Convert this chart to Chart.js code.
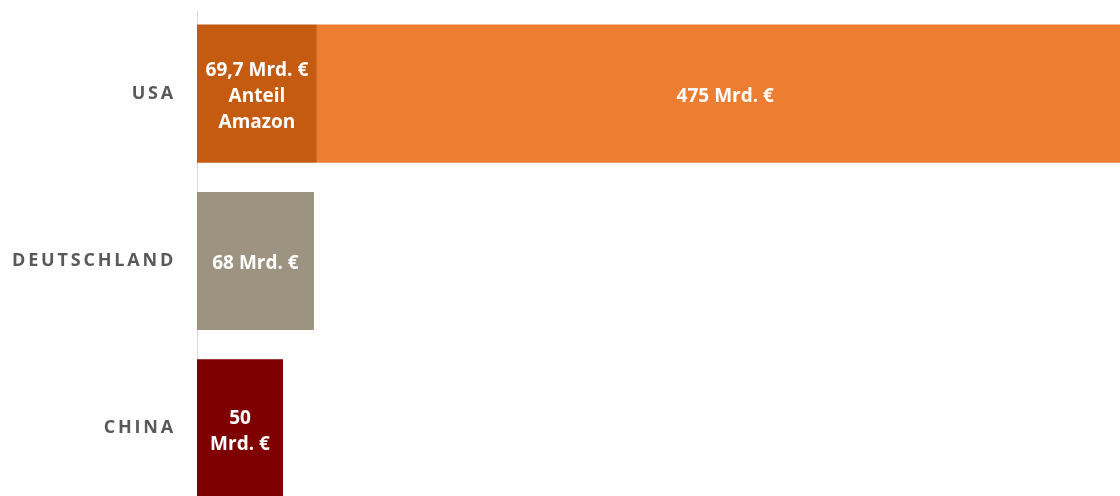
<!DOCTYPE html>
<html lang="de">
<head>
<meta charset="utf-8">
<script src="https://cdn.jsdelivr.net/npm/chart.js@4/dist/chart.umd.min.js"></script>
<style>
  html, body { margin: 0; padding: 0; background: #fff; }
  #wrap { width: 1120px; height: 496px; overflow: hidden; position: relative; }
  canvas { display: block; }
</style>
</head>
<body>
<div id="wrap"><canvas id="chart" width="1160" height="512"></canvas></div>
<script>
// Länder (Kategorien)
const countries = ['USA', 'DEUTSCHLAND', 'CHINA'];
// Umsatz in Mrd. €
const amazonShare = [69.7, null, null];
const marketRest = [475, 68, 50];
// Beschriftungen in den Balken
const amazonLabels = [['69,7 Mrd. €', 'Anteil', 'Amazon'], null, null];
const restLabels = [['475 Mrd. €'], ['68 Mrd. €'], ['50', 'Mrd. €']];

const COLORS = {
  amazon: '#C55A11',
  rest: ['#ED7D31', '#9C9380', '#7F0000'],
  axis: '#D9D9D9',
  tick: '#595959'
};

// Sperrung der Achsenbeschriftung
const spacingPlugin = {
  id: 'tickSpacing',
  beforeDraw(chart) { chart.ctx.letterSpacing = '2.8px'; },
  beforeDatasetsDraw(chart) { chart.ctx.letterSpacing = '0px'; }
};

// Werte mittig in die Balken schreiben
const barLabelPlugin = {
  id: 'barLabels',
  afterDatasetsDraw(chart) {
    const ctx = chart.ctx;
    ctx.save();
    ctx.letterSpacing = '0px';
    ctx.fillStyle = '#fff';
    ctx.font = 'bold 19px "Open Sans"';
    ctx.textAlign = 'center';
    ctx.textBaseline = 'middle';
    const lineH = 26;
    chart.data.datasets.forEach((ds, di) => {
      const meta = chart.getDatasetMeta(di);
      meta.data.forEach((bar, i) => {
        const lines = ds.labels[i];
        if (!lines || ds.data[i] == null) return;
        const x = (bar.x + bar.base) / 2;
        const y0 = bar.y + 3 - (lines.length - 1) * lineH / 2;
        lines.forEach((t, k) => ctx.fillText(t, x, y0 + k * lineH));
      });
    });
    ctx.restore();
  }
};

new Chart(document.getElementById('chart'), {
  type: 'bar',
  data: {
    labels: countries,
    datasets: [
      { label: 'Amazon', data: amazonShare, labels: amazonLabels, backgroundColor: COLORS.amazon },
      { label: 'Gesamt', data: marketRest, labels: restLabels, backgroundColor: COLORS.rest }
    ]
  },
  options: {
    indexAxis: 'y',
    responsive: false,
    animation: false,
    devicePixelRatio: 1,
    layout: { padding: { top: 10, bottom: 0, left: 0, right: 0 } },
    datasets: { bar: { categoryPercentage: 1, barPercentage: 0.826, borderWidth: 0 } },
    scales: {
      x: { stacked: true, display: false, min: 0, max: 560 },
      y: {
        stacked: true,
        grid: { display: false, drawTicks: false },
        border: { display: true, color: COLORS.axis, width: 1 },
        ticks: { color: COLORS.tick, padding: 21, font: { family: '"Open Sans"', size: 18, weight: 'bold' } },
        afterFit(scale) {
          scale.width = 197;
          scale.paddingTop = 0;
          scale.paddingBottom = 0;
        }
      }
    },
    plugins: { legend: { display: false }, tooltip: { enabled: false } }
  },
  plugins: [spacingPlugin, barLabelPlugin]
});
</script>
</body>
</html>
